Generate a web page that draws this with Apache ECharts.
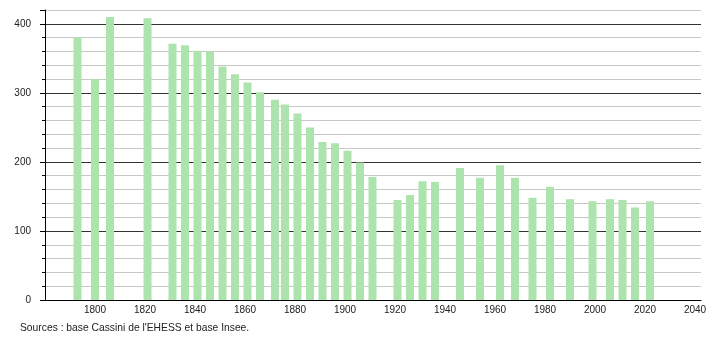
<!DOCTYPE html>
<html>
<head>
<meta charset="utf-8">
<script src="https://cdn.jsdelivr.net/npm/echarts@6/dist/echarts.min.js"></script>
<style>html,body{margin:0;padding:0;background:#fff;}#c{width:710px;height:340px;}</style>
</head>
<body>
<div id="c"></div>
<script>
var years = [1793,1800,1806,1821,1831,1836,1841,1846,1851,1856,1861,1866,1872,1876,1881,1886,1891,1896,1901,1906,1911,1921,1926,1931,1936,1946,1954,1962,1968,1975,1982,1990,1999,2006,2011,2016,2022];
var population = [380,320,410,408,371,369,361,360,338,327,315,301,290,283,270,250,229,227,216,199,178,145,152,172,171,191,177,195,177,148,164,146,143,146,145,134,143];
var xTickLabels = [1800,1820,1840,1860,1880,1900,1920,1940,1960,1980,2000,2020,2040];
var yTickLabels = [0,100,200,300,400];
var sourceText = "Sources : base Cassini de l'EHESS et base Insee.";

var chart = echarts.init(document.getElementById('c'), null, {renderer:'canvas'});
var data = years.map(function(y,i){ return [y, population[i]]; });
var font = 'Liberation Sans, Arial, sans-serif';
chart.setOption({
  animation:false,
  backgroundColor:'#fff',
  grid:{left:45,right:9,top:10,bottom:40},
  xAxis:{
    type:'value', min:1780, max:2042.4, interval:20,
    axisLine:{show:true,onZero:false,lineStyle:{color:'#000',width:1}},
    axisTick:{show:false},
    splitLine:{show:false},
    axisLabel:{
      margin:5, fontSize:10, color:'#222', fontFamily:font,
      showMinLabel:true, showMaxLabel:true,
      formatter:function(v){ return xTickLabels.indexOf(v) >= 0 ? String(v) : ''; }
    }
  },
  yAxis:[{
    type:'value', min:0, max:420, interval:20,
    axisLine:{show:true,lineStyle:{color:'#000',width:1}},
    axisTick:{show:true,length:3,lineStyle:{color:'#000'}},
    axisLabel:{show:false},
    splitLine:{show:true,lineStyle:{color:['#333','#c8c8c8','#c8c8c8','#c8c8c8','#c8c8c8'],width:1}}
  },{
    type:'value', min:0, max:420, interval:100, position:'left',
    axisLine:{show:false},
    axisTick:{show:true,length:5,lineStyle:{color:'#000'}},
    splitLine:{show:false},
    axisLabel:{
      margin:14, fontSize:10, color:'#222', fontFamily:font,
      formatter:function(v){ return yTickLabels.indexOf(v) >= 0 ? String(v) : ''; }
    }
  }],
  series:[{
    type:'bar', yAxisIndex:0, data:data, barWidth:8,
    itemStyle:{color:'#ade4ad'}
  }],
  graphic:[{
    type:'text', left:20, top:323,
    style:{text:sourceText, fontSize:10.3, fill:'#222', fontFamily:font}
  }]
});
</script>
</body>
</html>
